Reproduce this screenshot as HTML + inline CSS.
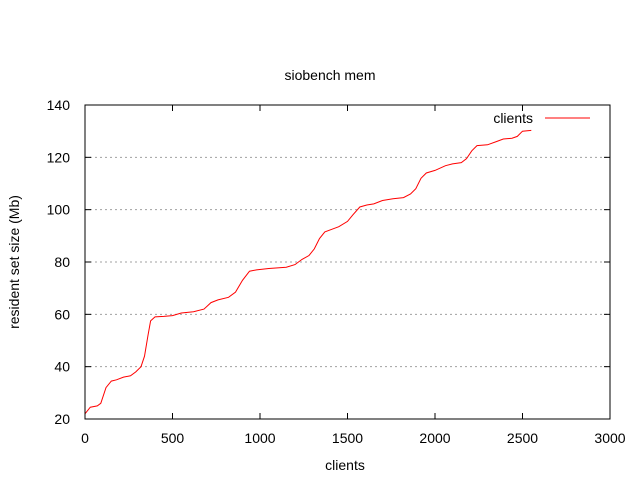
<!DOCTYPE html>
<html><head><meta charset="utf-8"><style>
body{margin:0;background:#fff}
svg{display:block;font-family:"Liberation Sans",sans-serif;font-size:14px}
</style></head><body>
<svg id="chart" width="640" height="480" xmlns="http://www.w3.org/2000/svg">
<rect width="640" height="480" fill="#fff"/>
<text x="330" y="80" text-anchor="middle">siobench mem</text>
<text x="345" y="470" text-anchor="middle">clients</text>
<text transform="translate(19,262) rotate(-90)" text-anchor="middle">resident set size (Mb)</text>
<g id="grid"></g>
<g id="axes"></g>
<path id="line" fill="none" stroke="#f00" stroke-width="1"/>
<rect x="85" y="105" width="525" height="314" fill="none" stroke="#000"/>
<g>
<text x="533" y="123" text-anchor="end">clients</text>
<line x1="545" y1="118" x2="590" y2="118" stroke="#f00"/>
</g>
</svg>
<script>
const xTicks=[0,500,1000,1500,2000,2500,3000];
const yTicks=[20,40,60,80,100,120,140];
const clients=[0,30,70,90,120,150,180,220,260,290,320,340,360,375,400,450,500,550,620,680,720,760,820,860,900,940,980,1050,1150,1200,1240,1280,1310,1340,1370,1410,1450,1500,1530,1570,1610,1650,1700,1760,1820,1860,1890,1920,1950,2000,2060,2100,2150,2180,2210,2240,2300,2350,2390,2440,2470,2500,2550];
const memMb=[22,24.5,25,26,32,34.5,35,36,36.5,38,40,44,52,57.5,59,59.2,59.5,60.5,61,62,64.5,65.5,66.5,68.5,73,76.5,77,77.5,78,79,81,82.5,85,89,91.5,92.5,93.5,95.5,98,101,101.8,102.2,103.5,104.2,104.6,106,108,112,114,115,116.8,117.5,118,119.5,122.5,124.5,124.8,126,127,127.3,128,130,130.3];
const X0=85,X1=610,Y0=419,Y1=105;
const sx=v=>X0+(v-0)/3000*(X1-X0);
const sy=v=>Y0-(v-20)/120*(Y0-Y1);
const NS="http://www.w3.org/2000/svg";
const grid=document.getElementById('grid'),axes=document.getElementById('axes');
function mk(tag,attrs,parent){const e=document.createElementNS(NS,tag);for(const k in attrs)e.setAttribute(k,attrs[k]);parent.appendChild(e);return e;}
yTicks.forEach(t=>{
  const y=sy(t);
  if(t>20&&t<140){const g=mk('line',{x1:X0,x2:X1,y1:y,y2:y,stroke:'#a0a0a0','stroke-dasharray':'2,3'},grid);
  
  }
  const a=mk('line',{x1:X0,x2:X0+6,y1:y,y2:y,stroke:'#000'},axes);
  
  
  const b=mk('line',{x1:X1-6,x2:X1,y1:y,y2:y,stroke:'#000'},axes);
  
  
  const l=mk('text',{x:X0-15,y:y+5,'text-anchor':'end'},axes);l.textContent=t;
  
  
});
xTicks.forEach(t=>{
  const x=sx(t);
  const a=mk('line',{x1:x,x2:x,y1:Y0,y2:Y0-6,stroke:'#000'},axes);
  
  
  const b=mk('line',{x1:x,x2:x,y1:Y1,y2:Y1+6,stroke:'#000'},axes);
  
  
  const l=mk('text',{x:x,y:Y0+24,'text-anchor':'middle'},axes);l.textContent=t;
  
  
});
document.getElementById('line').setAttribute('d',clients.map((c,i)=>(i?'L':'M')+sx(c).toFixed(1)+','+sy(memMb[i]).toFixed(1)).join(''));
</script>
</body></html>
